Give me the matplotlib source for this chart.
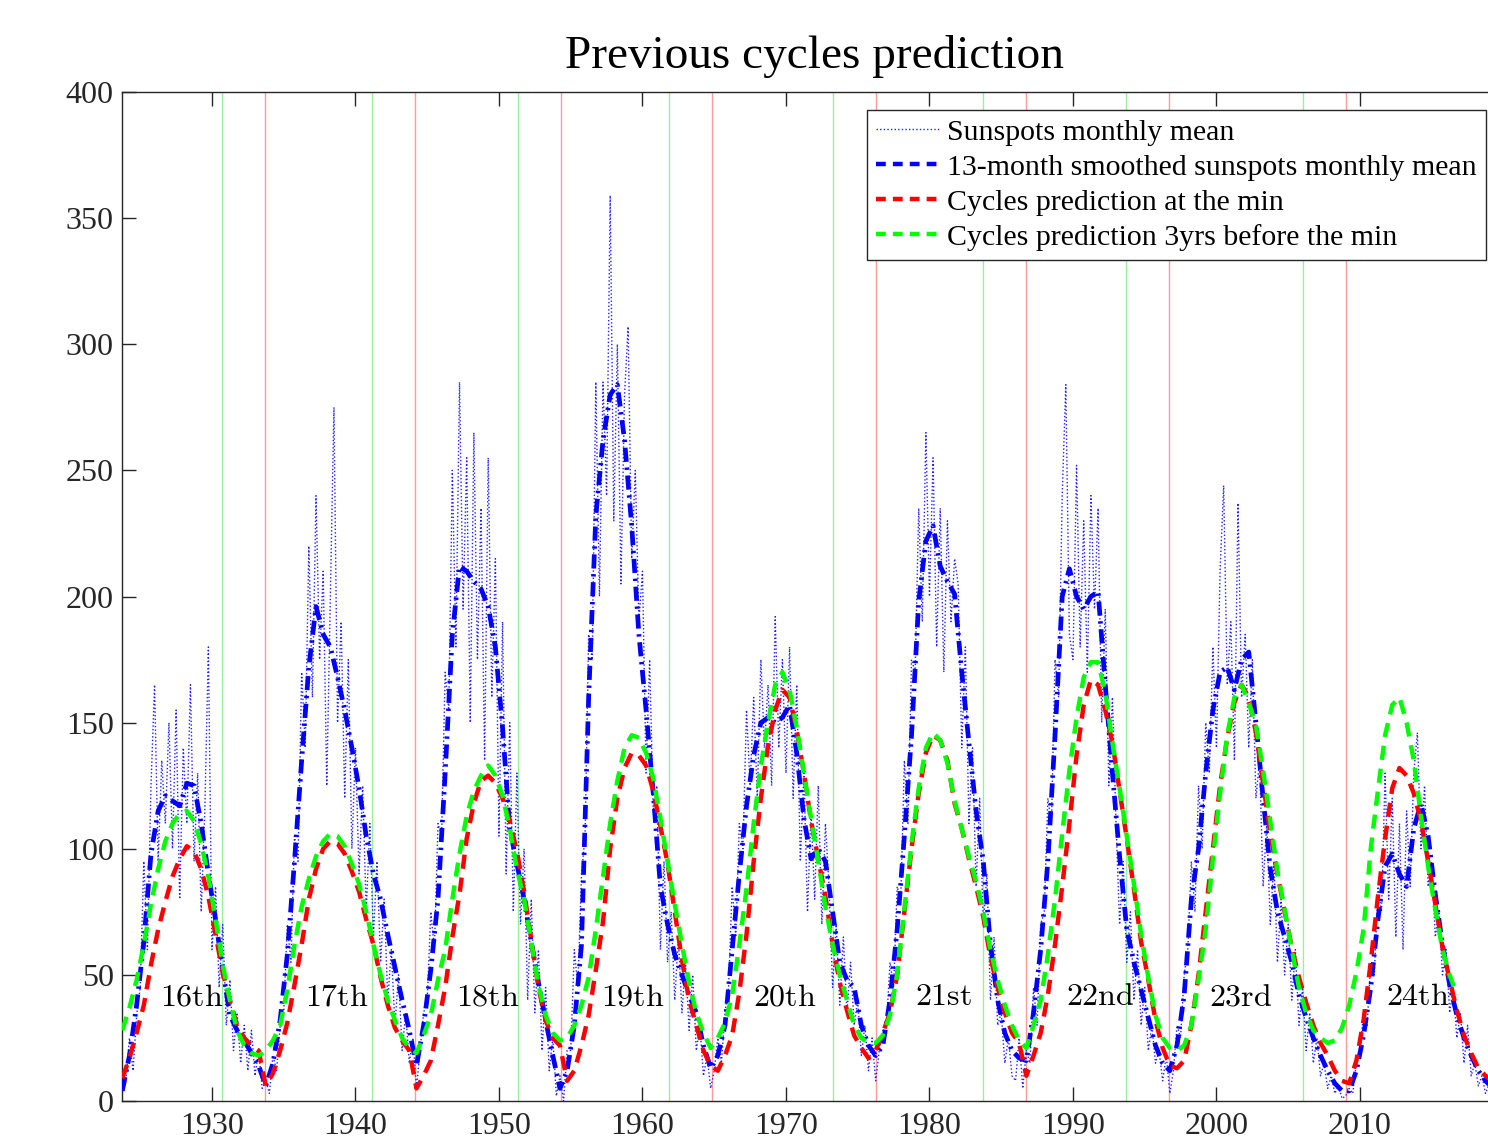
import numpy as np
import matplotlib
matplotlib.use("Agg")
import matplotlib.pyplot as plt
from matplotlib.lines import Line2D

plt.rcParams["font.family"] = ["Liberation Serif", "DejaVu Serif"]
plt.rcParams["mathtext.fontset"] = "cm"

# monthly mean, one sample every 3 months from 1923.75
monthly = [3,
    8, 25, 12, 34,   45, 95, 60, 125,   165, 95, 135, 110,   150, 100, 155, 80,
    140, 110, 165, 95,   130, 75, 115, 180,   60, 85, 45, 70,   30, 48, 20, 35,
    15, 30, 12, 28,   10, 20, 5, 8,   3, 18, 12, 30,   35, 70, 55, 105,
    95, 170, 140, 220,   160, 240, 175, 210,   125, 200, 275, 150,   190, 120, 175, 100,
    140, 90, 125, 75,   110, 65, 95, 55,   80, 40, 60, 30,   50, 20, 35, 15,
    25, 5, 20, 35,   40, 75, 60, 110,   105, 170, 155, 250,   180, 285, 195, 255,
    150, 265, 175, 235,   135, 255, 160, 215,   105, 190, 90, 150,   75, 130, 70, 100,
    40, 80, 35, 60,   20, 45, 12, 25,   2, 10, 0, 20,   20, 60, 45, 90,
    105, 185, 175, 285,   200, 285, 240, 359,   230, 300, 205, 280,   307, 215, 250, 190,
    210, 130, 175, 115,   125, 60, 95, 55,   75, 40, 65, 35,   55, 28, 50, 20,
    30, 10, 18, 5,   12, 25, 15, 35,   45, 85, 65, 110,   100, 155, 125, 160,
    120, 175, 140, 165,   125, 192, 140, 175,   130, 180, 120, 165,   95, 130, 75, 115,
    80, 125, 70, 110,   85, 45, 70, 38,   65, 35, 55, 30,   40, 18, 30, 12,
    25, 8, 20, 28,   30, 55, 45, 85,   80, 135, 110, 175,   170, 235, 190, 265,
    200, 255, 180, 235,   170, 230, 190, 215,   205, 140, 180, 110,   140, 85, 120, 70,
    90, 40, 65, 30,   35, 15, 25, 10,   8, 25, 5, 20,   15, 45, 30, 70,
    75, 120, 110, 175,   160, 240, 284, 185,   175, 252, 180, 230,   170, 240, 195, 235,
    150, 195, 125, 160,   110, 70, 95, 55,   75, 40, 60, 30,   45, 20, 30, 15,
    20, 8, 18, 3,   12, 30, 25, 50,   60, 95, 75, 125,   100, 150, 130, 180,
    140, 210, 244, 165,   190, 135, 237, 160,   185, 140, 175, 120,   135, 85, 110, 70,
    95, 55, 80, 50,   70, 40, 60, 30,   45, 20, 35, 15,   25, 10, 15, 5,
    10, 3, 6, 1,   2, 5, 3, 15,   20, 35, 30, 55,   50, 85, 75, 130,
    80, 120, 65, 110,   60, 115, 85, 130,   146, 100, 125, 85,   95, 65, 75, 50,
    60, 35, 45, 25,   35, 15, 30, 10,   15, 6, 10, 3,
    7]

# 13-month smoothed, every 6 months from 1923.75
smoothed = [4,
    18, 38, 63, 98, 115, 121, 119, 117, 126, 125, 110, 90, 72, 52, 34, 28, 24, 19, 14, 6,
    15, 32, 58, 95, 135, 172, 196, 185, 180, 168, 155, 140, 124, 105, 90, 80, 66, 53, 40, 28,
    14, 30, 52, 80, 130, 185, 212, 210, 206, 203, 196, 180, 148, 108, 94, 80, 63, 47, 32, 18,
    5, 12, 30, 62, 160, 232, 262, 280, 284, 262, 228, 185, 155, 122, 85, 70, 58, 50, 42, 35,
    22, 13, 18, 30, 60, 90, 117, 137, 150, 152, 150, 152, 157, 138, 112, 96, 100, 95, 75, 55,
    48, 45, 30, 22, 18, 22, 40, 68, 105, 145, 198, 222, 228, 212, 206, 201, 170, 142, 115, 95,
    62, 40, 27, 20, 17, 16, 35, 60, 95, 145, 200, 211, 200, 195, 200, 202, 165, 130, 97, 68,
    55, 44, 33, 22, 15, 12, 22, 42, 80, 100, 130, 155, 170, 172, 163, 175, 178, 150, 120, 92,
    75, 65, 55, 42, 33, 25, 18, 12, 7, 4, 4, 12, 26, 45, 72, 93, 98, 90, 85, 108,
    118, 105, 82, 62, 46, 34, 25, 18, 12, 8,
    5]

pred_min = [9,
    17, 27, 38, 54, 68, 79, 89, 96, 101, 99, 92, 81, 66, 51, 40, 30, 25, 22, 20, 6,
    11, 20, 31, 46, 62, 80, 92, 100, 103, 102, 98, 91, 83, 72, 62, 49, 38, 29, 24, 20,
    5, 10, 16, 30, 45, 65, 82, 104, 118, 127, 129, 126, 120, 111, 99, 83, 64, 45, 32, 25,
    22, 8, 12, 22, 34, 52, 71, 100, 120, 132, 138, 137, 133, 123, 109, 94, 75, 56, 40, 30,
    20, 14, 12, 18, 26, 43, 66, 95, 120, 141, 155, 163, 160, 147, 130, 111, 96, 81, 62, 47,
    36, 26, 21, 17, 20, 27, 35, 50, 75, 100, 122, 138, 145, 143, 135, 118, 108, 96, 85, 73,
    57, 45, 35, 27, 23, 10, 18, 27, 42, 62, 85, 110, 137, 157, 167, 165, 155, 142, 123, 104,
    84, 63, 48, 32, 21, 14, 13, 16, 30, 50, 75, 100, 125, 144, 158, 165, 160, 146, 126, 106,
    90, 75, 61, 49, 39, 30, 23, 18, 12, 8, 7, 16, 32, 55, 81, 104, 124, 132, 129, 122,
    111, 95, 78, 61, 48, 36, 26, 19, 13, 10,
    8]

pred_3yrs = [28,
    37, 48, 62, 78, 92, 103, 110, 114, 115, 111, 102, 89, 72, 54, 40, 28, 22, 19, 18, 20,
    24, 30, 44, 62, 77, 88, 97, 103, 106, 105, 101, 94, 86, 75, 62, 50, 40, 32, 25, 21,
    19, 26, 34, 48, 60, 80, 98, 113, 123, 129, 133, 129, 121, 108, 92, 80, 63, 46, 34, 27,
    24, 25, 30, 38, 49, 68, 89, 110, 127, 140, 145, 144, 138, 128, 112, 95, 78, 62, 47, 35,
    27, 21, 25, 31, 42, 62, 84, 110, 133, 150, 165, 170, 163, 148, 130, 112, 95, 77, 62, 50,
    40, 30, 25, 23, 23, 26, 34, 50, 76, 102, 124, 140, 146, 143, 134, 119, 108, 97, 87, 75,
    60, 48, 38, 30, 24, 21, 30, 40, 58, 80, 106, 131, 152, 168, 174, 174, 162, 142, 124, 105,
    86, 66, 49, 34, 25, 21, 20, 22, 30, 48, 68, 96, 122, 145, 160, 165, 158, 149, 131, 111,
    91, 76, 60, 45, 35, 28, 25, 23, 24, 29, 38, 51, 68, 100, 123, 145, 157, 160, 150, 135,
    113, 93, 76, 60, 50, 42, np.nan, np.nan, np.nan, np.nan,
    np.nan]

cycle_minima = [1933.69, 1944.15, 1954.32, 1964.85, 1976.27, 1986.73, 1996.69, 2009.03]
cycle_names = ["16th", "17th", "18th", "19th", "20th", "21st", "22nd", "23rd", "24th"]
cycle_label_x = [1928.6, 1938.7, 1949.2, 1959.3, 1969.9, 1981.0, 1991.9, 2001.7, 2014.0]

t_month = 1923.75 + 0.25 * np.arange(len(monthly))
t_smooth = 1923.75 + 0.5 * np.arange(len(smoothed))
t_pmin = 1923.75 + 0.5 * np.arange(len(pred_min))
t_p3 = 1923.75 + 0.5 * np.arange(len(pred_3yrs))

fig = plt.figure(figsize=(14.88, 11.42), dpi=100)
# the right edge of the axes box lies just past the picture edge, as in the original
ax = fig.add_axes([122 / 1488, 41 / 1142, 1385 / 1488, 1009 / 1142])

for m in cycle_minima:
    ax.axvline(m, color="#ff9a9a", lw=1.0, zorder=1)
    ax.axvline(m - 3, color="#9af09a", lw=1.0, zorder=1)

ax.plot(t_month, monthly, color="#2020ff", lw=1.0, ls=(0, (1, 1.6)), zorder=2)
ax.plot(t_smooth, smoothed, color="#0000ff", lw=3.4, dashes=(3, 1.2, 0.5, 1.2), zorder=3)
ax.plot(t_pmin, pred_min, color="#ff0000", lw=3.2, dashes=(3.2, 2.0), zorder=4)
ax.plot(t_p3, pred_3yrs, color="#00ff00", lw=3.2, dashes=(3.2, 2.0), zorder=5)

for name, x in zip(cycle_names, cycle_label_x):
    ax.text(x, 41, r"$\mathrm{%s}$" % name, fontsize=23, ha="center", va="center", zorder=6)

ax.set_xlim(1923.73, 1923.73 + 1385 / 14.35)
ax.set_ylim(0, 400)
ax.set_xticks(np.arange(1930, 2011, 10))
ax.set_yticks(np.arange(0, 401, 50))
ax.tick_params(direction="in", length=10, width=1.0, colors="#262626", labelsize=23,
               top=True, right=True)
ax.tick_params(axis="x", pad=8)
ax.tick_params(axis="y", pad=6)
for s in ax.spines.values():
    s.set_color("#262626")
    s.set_linewidth(1.0)

ax.set_title("Previous cycles prediction", fontsize=34, pad=17)

handles = [
    Line2D([], [], color="#2020ff", lw=1.0, ls=(0, (1, 1.6))),
    Line2D([], [], color="#0000ff", lw=3.2, dashes=(2.2, 1.6)),
    Line2D([], [], color="#ff0000", lw=3.2, dashes=(2.2, 1.6)),
    Line2D([], [], color="#00ff00", lw=3.2, dashes=(2.2, 1.6)),
]
labels = ["Sunspots monthly mean", "13-month smoothed sunspots monthly mean",
          "Cycles prediction at the min", "Cycles prediction 3yrs before the min"]
leg = ax.legend(handles, labels, loc="upper right", bbox_to_anchor=(1486 / 1488, 1 - 110 / 1142),
                bbox_transform=fig.transFigure, borderaxespad=0, fontsize=21.5,
                fancybox=False, framealpha=1, edgecolor="#262626", handlelength=2.15,
                handletextpad=0.25, labelspacing=0.27, borderpad=0.3)
leg.get_frame().set_linewidth(1.0)

fig.savefig("out.png", dpi=100)
